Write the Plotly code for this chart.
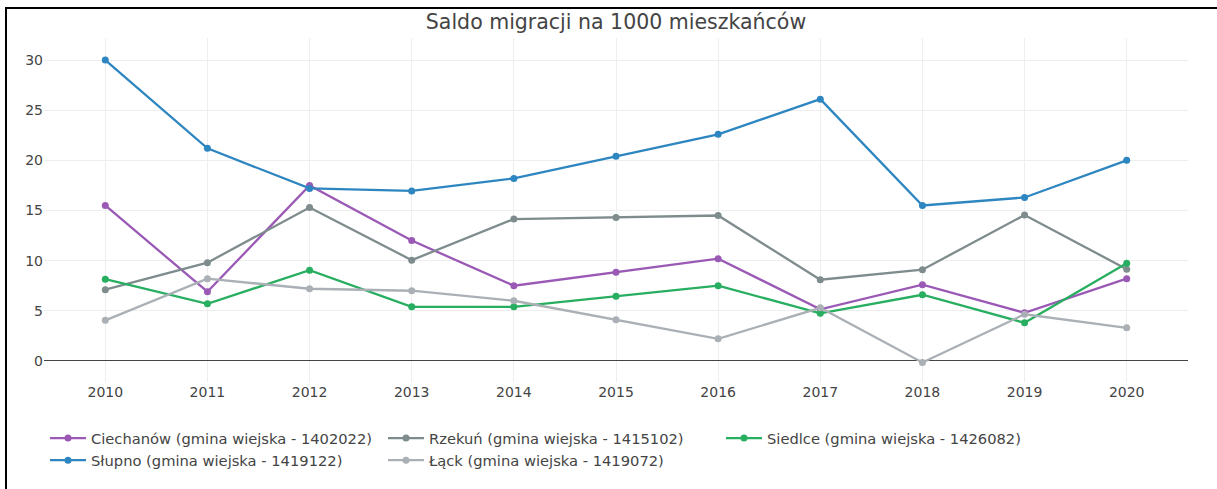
import plotly.graph_objects as go

years = [2010, 2011, 2012, 2013, 2014, 2015, 2016, 2017, 2018, 2019, 2020]

names = [
    "Ciechanów (gmina wiejska - 1402022)",
    "Rzekuń (gmina wiejska - 1415102)",
    "Siedlce (gmina wiejska - 1426082)",
    "Słupno (gmina wiejska - 1419122)",
    "Łąck (gmina wiejska - 1419072)",
]

ciechanow = [15.5, 6.9, 17.5, 12.0, 7.5, 8.85, 10.2, 5.15, 7.6, 4.8, 8.2]
rzekun = [7.1, 9.8, 15.3, 10.05, 14.15, 14.3, 14.5, 8.1, 9.1, 14.55, 9.15]
siedlce = [8.15, 5.7, 9.05, 5.4, 5.4, 6.45, 7.5, 4.75, 6.6, 3.8, 9.75]
slupno = [30.0, 21.2, 17.2, 16.95, 18.2, 20.4, 22.6, 26.1, 15.5, 16.3, 20.0]
lack = [4.05, 8.2, 7.2, 7.0, 6.0, 4.1, 2.2, 5.3, -0.15, 4.65, 3.3]

series = [ciechanow, rzekun, siedlce, slupno, lack]
colors = ["#9b59b6", "#7f8c8d", "#27ae60", "#2e86c1", "#aab0b5"]

FONT = "DejaVu Sans"

fig = go.Figure()
for name, vals, col in zip(names, series, colors):
    fig.add_trace(go.Scatter(
        x=years, y=vals, name=name, mode="lines+markers",
        line=dict(color=col, width=2.3),
        marker=dict(color=col, size=7),
    ))

L, R, T, B = 44, 29, 38, 107
W, H = 1217, 489
pw, ph = W - L - R, H - T - B

def px_x(p):
    return (p - L) / pw

def px_y(p):
    return (H - B - p) / ph

fig.update_layout(
    width=W, height=H,
    margin=dict(l=L, r=R, t=T, b=B),
    paper_bgcolor="white", plot_bgcolor="white",
    font=dict(family=FONT, color="#444", size=14),
    title=dict(text="Saldo migracji na 1000 mieszkańców", x=616 / W, xref="container",
               xanchor="center", y=1 - 22 / H, yanchor="middle",
               font=dict(family=FONT, size=20.5, color="#444")),
    xaxis=dict(range=[2009.4, 2020.6], tickmode="array", tickvals=years,
               ticktext=[str(y) for y in years], showgrid=True, gridcolor="#eeeeee",
               zeroline=False, showline=False, ticks="",
               tickfont=dict(family=FONT, size=14, color="#444")),
    yaxis=dict(range=[-2.1, 32.2], tickmode="array", tickvals=[0, 5, 10, 15, 20, 25, 30],
               showgrid=True, gridcolor="#eeeeee", zeroline=True, zerolinecolor="#444",
               zerolinewidth=1, showline=False, ticks="",
               tickfont=dict(family=FONT, size=14, color="#444")),
    legend=dict(orientation="h", x=px_x(45), xanchor="left", y=px_y(422), yanchor="top",
                entrywidth=287, entrywidthmode="pixels", itemwidth=36,
                font=dict(family=FONT, size=14.7, color="#444"), bgcolor="rgba(0,0,0,0)"),
    showlegend=True,
    shapes=[
        dict(type="line", xref="paper", yref="paper", x0=px_x(6), x1=px_x(6),
             y0=px_y(8), y1=px_y(H + 2), line=dict(color="black", width=2)),
        dict(type="line", xref="paper", yref="paper", x0=px_x(5), x1=px_x(W + 2),
             y0=px_y(8), y1=px_y(8), line=dict(color="black", width=2)),
    ],
)

fig.write_html("out.html", config={"displayModeBar": False},
               post_script="document.body.style.margin='0px';")
